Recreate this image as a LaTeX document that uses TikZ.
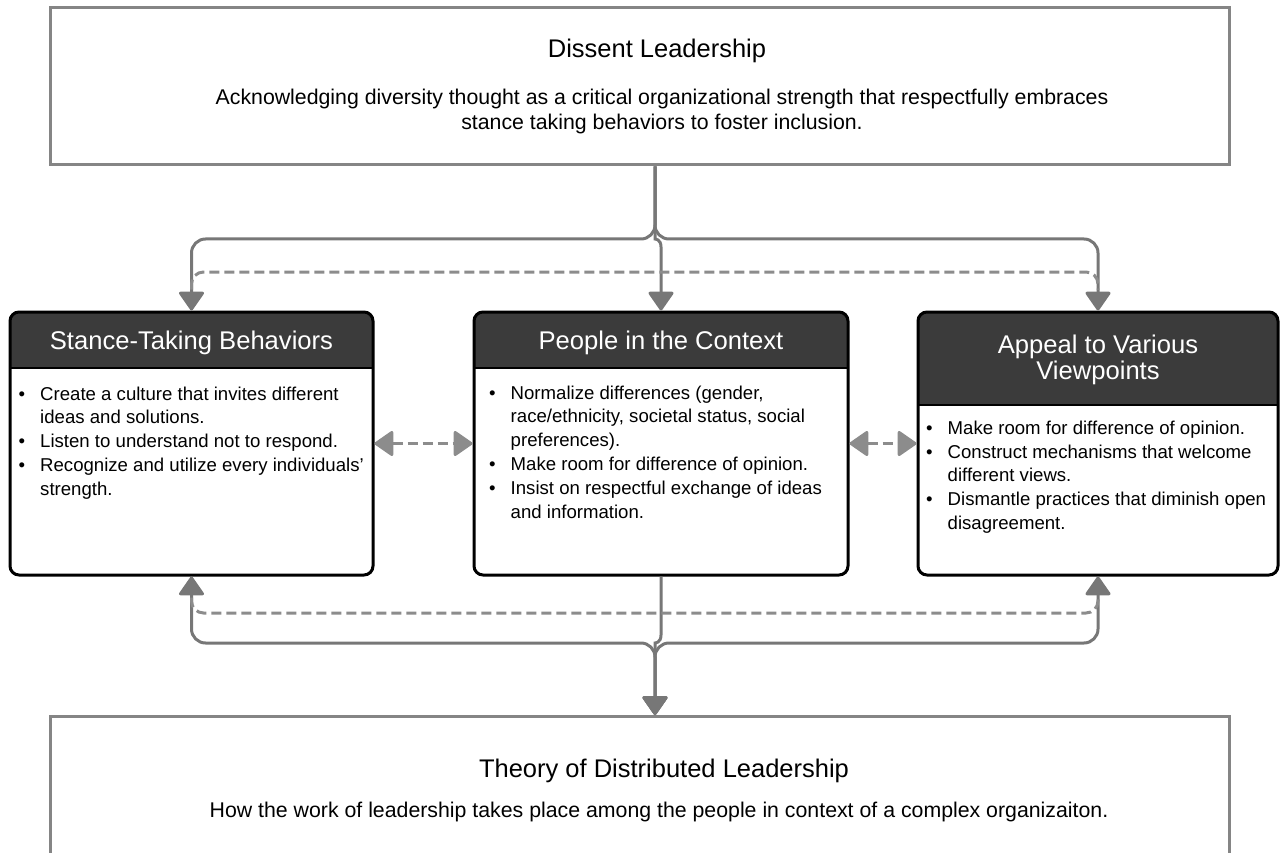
\documentclass[tikz,border=0pt]{standalone}
\usepackage{fontspec}
\setmainfont{Liberation Sans}
\usetikzlibrary{arrows.meta}

\definecolor{framegray}{HTML}{858585}
\definecolor{linkgray}{HTML}{777777}
\definecolor{dashgray}{HTML}{8C8C8C}
\definecolor{headfill}{HTML}{3B3B3B}

\newcommand{\cardbullets}[1]{\begin{tabular}{@{}l@{\hspace{15pt}}l@{}}#1\end{tabular}}

\tikzset{
  outerbox/.style={draw=framegray, line width=3pt, minimum width=1179pt, minimum height=#1},
  card/.style={draw=black, line width=3pt, rounded corners=9pt, fill=white, minimum height=263pt,
    path picture={
      \fill[headfill, sharp corners] (path picture bounding box.north west) rectangle ([yshift=-#1]path picture bounding box.north east);
      \draw[black, line width=2pt, sharp corners] ([yshift=-#1]path picture bounding box.north west) -- ([yshift=-#1]path picture bounding box.north east);
    }},
  titletext/.style={font=\fontsize{25.5}{30}\selectfont, anchor=base},
  bodytext/.style={font=\fontsize{21.3}{24.5}\selectfont, align=center, anchor=base},
  headtext/.style={text=white, font=\fontsize{25.6}{26}\selectfont, align=center, anchor=base},
  listtext/.style={font=\fontsize{18.6}{23.8}\selectfont, anchor=north west, inner sep=0pt},
  link/.style={draw=linkgray, line width=3pt, rounded corners=14pt},
  dashlink/.style={draw=dashgray, line width=3pt, dash pattern=on 10pt off 5pt, rounded corners=12pt},
  bigtip/.tip={Triangle[width=27pt, length=20pt, round]}
}

\begin{document}
\begin{tikzpicture}[x=1pt, y=-1pt]
  \useasboundingbox (0,0) rectangle (1280,853);

  % outer boxes
  \node[outerbox=157pt] (dissent) at (639.5,86.5) {};
  \node[titletext] (dissenttitle) at (657,58) {Dissent Leadership};
  \node[bodytext] (dissentbody) at (662,129.5) {Acknowledging diversity thought as a critical organizational strength that respectfully embraces\\stance taking behaviors to foster inclusion.};

  \node[outerbox=200pt, anchor=north] (theory) at (639.5,715) {};
  \node[titletext] (theorytitle) at (664,777) {Theory of Distributed Leadership};
  \node[bodytext] (theorybody) at (659,817) {How the work of leadership takes place among the people in context of a complex organizaiton.};

  % the three cards
  \node[card=56pt, minimum width=363pt] (stance) at (191.5,443.5) {};
  \node[card=56pt, minimum width=374pt] (people) at (661,443.5) {};
  \node[card=93pt, minimum width=360pt] (appeal) at (1098,443.5) {};

  \node[headtext] (stancehead) at (191.5,349) {Stance-Taking Behaviors};
  \node[headtext] (peoplehead) at (661,349) {People in the Context};
  \node[headtext] (appealhead) at (1098,379) {Appeal to Various\\Viewpoints};

  \node[listtext] (stancelist) at (18.5,383.3) {\cardbullets{
    \textbullet & Create a culture that invites different\\
                & ideas and solutions.\\
    \textbullet & Listen to understand not to respond.\\
    \textbullet & Recognize and utilize every individuals’\\
                & strength.}};
  \node[listtext] (peoplelist) at (489,382.3) {\cardbullets{
    \textbullet & Normalize differences (gender,\\
                & race/ethnicity, societal status, social\\
                & preferences).\\
    \textbullet & Make room for difference of opinion.\\
    \textbullet & Insist on respectful exchange of ideas\\
                & and information.}};
  \node[listtext] (appeallist) at (926,417.5) {\cardbullets{
    \textbullet & Make room for difference of opinion.\\
    \textbullet & Construct mechanisms that welcome\\
                & different views.\\
    \textbullet & Dismantle practices that diminish open\\
                & disagreement.}};

  % forks
  \coordinate (topfork) at (655,239);
  \coordinate (botfork) at (655,643);
  \coordinate (dashtop) at (0,272);
  \coordinate (dashbot) at (0,613);

  % links from the top box
  \draw[link, -bigtip] (dissent.south -| topfork) -- (topfork) -- (stance.north |- topfork) -- (stance.north);
  \draw[link, -bigtip] (dissent.south -| topfork) -- (topfork) -- (appeal.north |- topfork) -- (appeal.north);
  \draw[link, -bigtip] (dissent.south -| topfork) -- ([yshift=14pt]topfork)
    .. controls (topfork) and (topfork -| people.north) .. ([yshift=-22pt]topfork -| people.north) -- (people.north);
  \draw[dashlink] ([yshift=21pt]stance.north) -- (stance.north |- dashtop) -- (appeal.north |- dashtop) -- ([yshift=21pt]appeal.north);

  % links between the cards
  \draw[dashlink, bigtip-bigtip] (stance.east) -- (stance.east -| people.west);
  \draw[dashlink, bigtip-bigtip] (people.east) -- (people.east -| appeal.west);

  % links to the bottom box
  \draw[link, bigtip-bigtip] (stance.south) -- (stance.south |- botfork) -- (botfork) -- (theory.north -| botfork);
  \draw[link, bigtip-bigtip] (appeal.south) -- (appeal.south |- botfork) -- (botfork) -- (theory.north -| botfork);
  \draw[link, -bigtip] (people.south) -- ([yshift=22pt]botfork -| people.south)
    .. controls (botfork -| people.south) and (botfork) .. ([yshift=-14pt]botfork) -- (theory.north -| botfork);
  \draw[dashlink] ([yshift=-21pt]stance.south) -- (stance.south |- dashbot) -- (appeal.south |- dashbot) -- ([yshift=-21pt]appeal.south);
\end{tikzpicture}
\end{document}
